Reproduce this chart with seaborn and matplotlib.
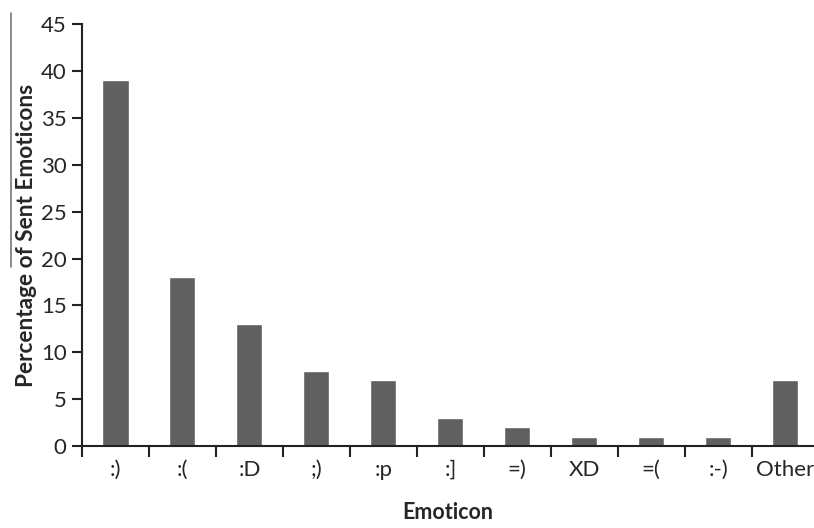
import numpy as np
import pandas as pd
import matplotlib
matplotlib.use("Agg")
import matplotlib.pyplot as plt
import seaborn as sns
from matplotlib.lines import Line2D

emoticons = [":)", ":(", ":D", ";)", ":p", ":]", "=)", "XD", "=(", ":-)", "Other"]
percent = [39, 18, 13, 8, 7, 3, 2, 1, 1, 1, 7]

df = pd.DataFrame({"emoticon": emoticons, "percent": percent})

sns.set_style("white")
plt.rcParams['font.family'] = ['Lato', 'DejaVu Sans']

fig = plt.figure(figsize=(8.14, 5.28), dpi=100)
ax = fig.add_axes([0.1007, 0.155, 0.8993, 0.7995])

sns.barplot(data=df, x="emoticon", y="percent", color="#606060",
            width=0.39, saturation=1, ax=ax)

ax.set_ylim(0, 45)
ax.set_yticks(np.arange(0, 46, 5))
ax.set_xlim(-0.5, len(emoticons) - 0.57)

# ticks between categories, like the original
ax.set_xticks(np.arange(-0.5, len(emoticons) - 0.5, 1), minor=True)
ax.tick_params(axis="x", which="major", length=0, pad=10, labelsize=16)
ax.tick_params(axis="x", which="minor", length=8, width=1.5, color="#222222",
               direction="out", bottom=True)
ax.tick_params(axis="y", length=7, width=1.5, color="#222222",
               direction="out", left=True, labelsize=16, pad=4)

for s in ["top", "right"]:
    ax.spines[s].set_visible(False)
for s in ["left", "bottom"]:
    ax.spines[s].set_color("#222222")
    ax.spines[s].set_linewidth(1.5)

ax.set_xlabel("Emoticon", fontsize=15.5, fontweight="bold", labelpad=16)
ax.set_ylabel("Percentage of Sent Emoticons", fontsize=16.3,
              fontweight="bold", labelpad=3)

# stray vertical rule at the top-left of the original scan
fig.add_artist(Line2D([11 / 814, 11 / 814], [1 - 13 / 528, 1 - 267 / 528],
                      color="#777777", linewidth=1.2))

fig.savefig("out.png", dpi=100)
